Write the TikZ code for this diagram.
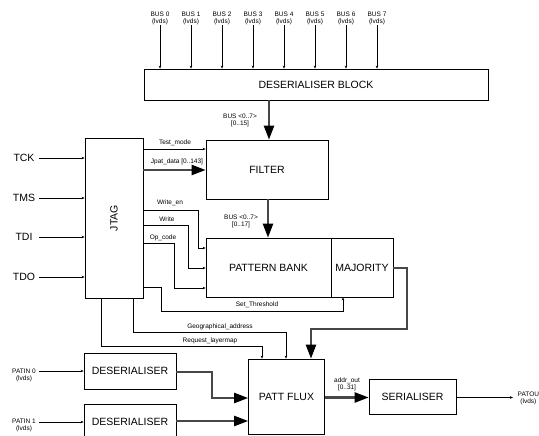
\documentclass[tikz,border=0pt]{standalone}
\usepackage{fontspec}
\setmainfont{Liberation Sans}
\usetikzlibrary{arrows.meta}
\begin{document}
\begin{tikzpicture}[x=1pt,y=-1pt,
  blk/.style={draw,line width=0.7pt,inner sep=0pt,font=\fontsize{10.5}{12}\selectfont},
  sm/.style={font=\fontsize{6.5}{7}\selectfont,inner sep=0.5pt,align=center},
  big/.style={font=\fontsize{10.5}{12}\selectfont,inner sep=0pt},
  thin/.style={line width=0.6pt,-{Stealth[length=3pt,width=2.5pt]}},
  thick/.style={line width=2.3pt,draw=black!72,-{Triangle[length=14pt,width=10pt,fill=black,color=black]}}]
\useasboundingbox (0,0) rectangle (539,436);
% blocks
\node[blk,minimum width=344pt,minimum height=31pt] (db) at (316,84.5) {DESERIALISER BLOCK};
\node[blk,minimum width=122pt,minimum height=59pt] (filter) at (267,169.5) {FILTER};
\node[blk,minimum width=125pt,minimum height=59pt] (pb) at (268.5,267.5) {PATTERN BANK};
\node[blk,minimum width=62pt,minimum height=59pt] (maj) at (362,267.5) {MAJORITY};
\node[blk,minimum width=58pt,minimum height=160pt] (jtag) at (114,218) {};
\node[big,rotate=90] (jtagt) at (114,218) {JTAG};
\node[blk,minimum width=92pt,minimum height=36pt] (d0) at (130,371) {DESERIALISER};
\node[blk,minimum width=92pt,minimum height=36pt] (d1) at (130,422) {DESERIALISER};
\node[blk,minimum width=76pt,minimum height=75pt] (pf) at (286.5,396.5) {PATT FLUX};
\node[blk,minimum width=87pt,minimum height=35pt] (ser) at (412.5,396.5) {SERIALISER};
% bus inputs
\foreach \i in {0,...,7}{
  \node[sm] (b\i) at ({160+31*\i},18) {BUS \i\\(lvds)};
  \draw[thin] (b\i.south) -- (b\i.south |- db.north);
}
% deser block -> filter
\draw[thick] (db.south -| 269,0) -- (filter.north -| 269,0);
\node[sm] (l1) at (240,120) {BUS <0..7>\\{[0..15]}};
% filter -> pattern bank
\draw[thick] (filter.south -| 268,0) -- (pb.north -| 268,0);
\node[sm] (l2) at (241,221) {BUS <0..7>\\{[0..17]}};
% JTAG inputs
\foreach \n/\y in {TCK/158,TMS/198,TDI/237,TDO/277}{
  \node[big] (\n) at (24,\y) {\n};
  \draw[thin] (39,\y) -- (jtag.west |- 0,\y);
}
% JTAG outputs
\draw[thin] (jtag.east |- 0,149) -- (filter.west |- 0,149);
\node[sm] (tm) at (175,142.5) {Test\_mode};
\draw[thick] (jtag.east |- 0,170) -- (filter.west |- 0,170);
\node[sm] (jp) at (177,161.5) {Jpat\_data [0..143]};
\draw[thin] (jtag.east |- 0,210) -| (198,248) -- (pb.west |- 0,248);
\node[sm] (we) at (170,202.5) {Write\_en};
\draw[thin] (jtag.east |- 0,225) -| (188,268) -- (pb.west |- 0,268);
\node[sm] (wr) at (167,219.5) {Write};
\draw[thin] (jtag.east |- 0,243) -| (174,288) -- (pb.west |- 0,288);
\node[sm] (oc) at (163,237.5) {Op\_code};
\draw[thin] (jtag.east |- 0,287) -| (161,311.5) -| (maj.south -| 343,0);
\node[sm] (st) at (257,305) {Set\_Threshold};
\draw[thin] (jtag.south -| 133,0) |- (286,332) -- (pf.north -| 286,0);
\node[sm] (ga) at (220,326.5) {Geographical\_address};
\draw[thin] (jtag.south -| 101,0) |- (262,346) -- (pf.north -| 262,0);
\node[sm] (rl) at (210,340.5) {Request\_layermap};
% majority -> patt flux
\draw[thick] (maj.east |- 0,268) -| (407,329) -| (pf.north -| 311,0);
% PATIN
\node[sm] (p0) at (24,375) {PATIN 0\\(lvds)};
\draw[thin] (39,371) -- (d0.west);
\node[sm] (p1) at (24,425.5) {PATIN 1\\(lvds)};
\draw[thin] (39,422) -- (d1.west |- 0,422);
\draw[thick] (d0.east |- 0,372) -| (212,398) -- (pf.west |- 0,398);
\draw[thick] (d1.east |- 0,421) -- (pf.west |- 0,421);
% addr out
\draw[thick] (pf.east |- 0,397.5) -- (ser.west |- 0,397.5);
\node[sm] (ao) at (347,384) {addr\_out\\{[0..31]}};
% patout
\draw[thin] (ser.east |- 0,397.5) -- (513,397.5);
\node[sm,anchor=west] (po) at (517,398) {PATOU\\(lvds)};
\end{tikzpicture}
\end{document}
